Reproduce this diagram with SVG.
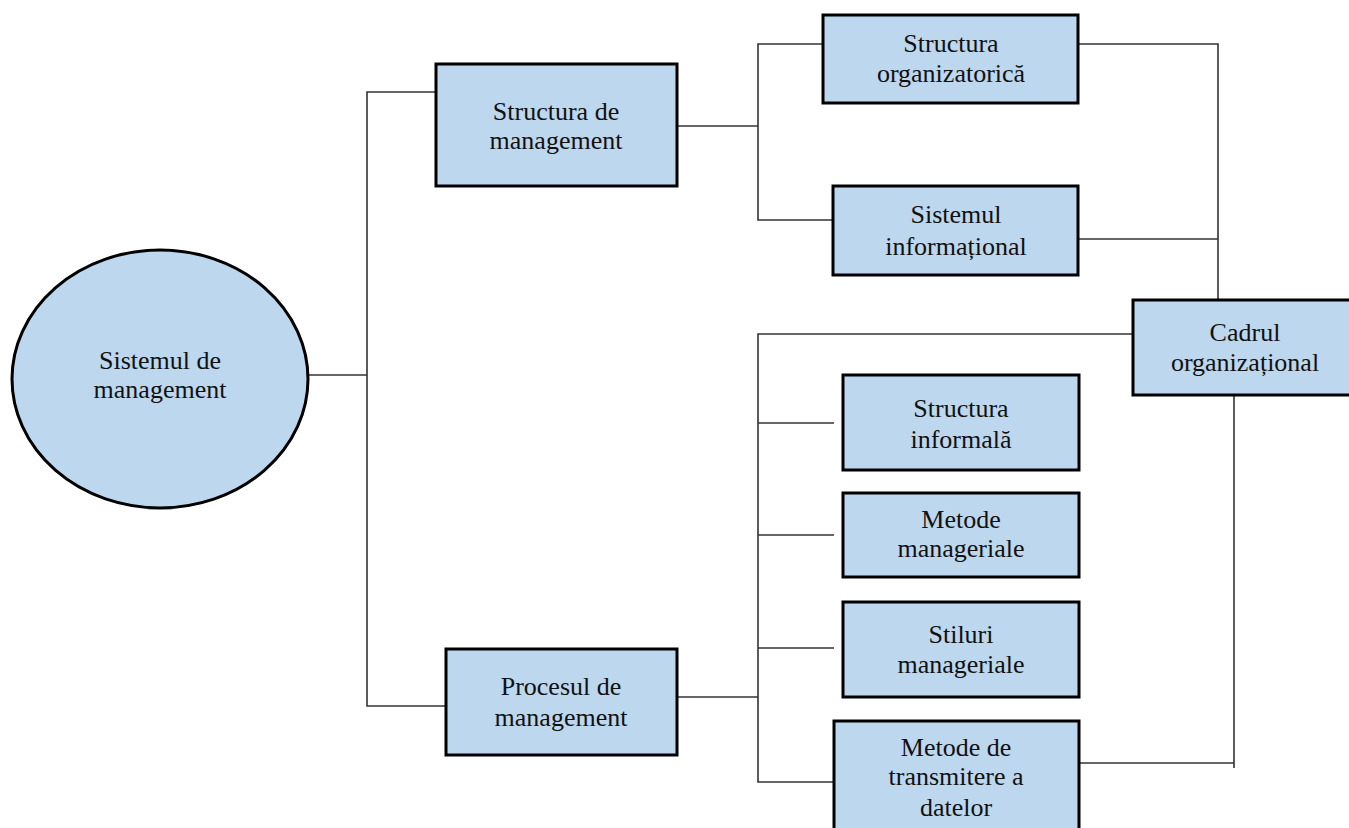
<svg xmlns="http://www.w3.org/2000/svg" width="1349" height="828" viewBox="0 0 1349 828">
  <style>
    .box { fill: #BDD7EE; stroke: #000; stroke-width: 3; }
    .lbl { font-family: "Liberation Serif", "Times New Roman", serif; font-size: 26px; fill: #111; text-anchor: middle; }
    .wire { fill: none; stroke: #333; stroke-width: 1.6; }
  </style>
  <rect width="1349" height="828" fill="#fff"/>

  <!-- connectors -->
  <g id="connectors">
    <!-- root to first-level branches -->
    <path class="wire" d="M308 375 H367"/>
    <path class="wire" d="M436 92 H367 V706 H446"/>
    <!-- Structura de management branches -->
    <path class="wire" d="M677 126 H758"/>
    <path class="wire" d="M823 44 H758 V220 H833"/>
    <!-- Procesul de management branches -->
    <path class="wire" d="M677 697 H758"/>
    <path class="wire" d="M1133 334 H758 V782 H834"/>
    <path class="wire" d="M758 423 H834"/>
    <path class="wire" d="M758 535 H834"/>
    <path class="wire" d="M758 648 H834"/>
    <!-- links into Cadrul organizațional -->
    <path class="wire" d="M1078 44 H1218 V300"/>
    <path class="wire" d="M1078 239 H1218"/>
    <path class="wire" d="M1234 395 V768"/>
    <path class="wire" d="M1079 763 H1234"/>
  </g>

  <g id="sistemul-de-management">
    <ellipse class="box" cx="160" cy="379" rx="148" ry="129"/>
    <text class="lbl" x="160" y="369">Sistemul de</text>
    <text class="lbl" x="160" y="398">management</text>
  </g>

  <g id="structura-de-management">
    <rect class="box" x="436" y="64" width="241" height="122"/>
    <text class="lbl" x="556" y="120">Structura de</text>
    <text class="lbl" x="556" y="149">management</text>
  </g>

  <g id="procesul-de-management">
    <rect class="box" x="446" y="649" width="231" height="106"/>
    <text class="lbl" x="561" y="695">Procesul de</text>
    <text class="lbl" x="561" y="726">management</text>
  </g>

  <g id="structura-organizatorica">
    <rect class="box" x="823" y="15" width="255" height="88"/>
    <text class="lbl" x="951" y="52">Structura</text>
    <text class="lbl" x="951" y="82">organizatorică</text>
  </g>

  <g id="sistemul-informational">
    <rect class="box" x="833" y="186" width="245" height="89"/>
    <text class="lbl" x="956" y="223">Sistemul</text>
    <text class="lbl" x="956" y="255">informațional</text>
  </g>

  <g id="cadrul-organizational">
    <rect class="box" x="1133" y="300" width="224" height="95"/>
    <text class="lbl" x="1245" y="341">Cadrul</text>
    <text class="lbl" x="1245" y="371">organizațional</text>
  </g>

  <g id="structura-informala">
    <rect class="box" x="843" y="375" width="236" height="95"/>
    <text class="lbl" x="961" y="417">Structura</text>
    <text class="lbl" x="961" y="448">informală</text>
  </g>

  <g id="metode-manageriale">
    <rect class="box" x="843" y="493" width="236" height="84"/>
    <text class="lbl" x="961" y="528">Metode</text>
    <text class="lbl" x="961" y="557">manageriale</text>
  </g>

  <g id="stiluri-manageriale">
    <rect class="box" x="843" y="602" width="236" height="95"/>
    <text class="lbl" x="961" y="643">Stiluri</text>
    <text class="lbl" x="961" y="673">manageriale</text>
  </g>

  <g id="metode-de-transmitere">
    <rect class="box" x="834" y="721" width="245" height="120"/>
    <text class="lbl" x="956" y="756">Metode de</text>
    <text class="lbl" x="956" y="785">transmitere a</text>
    <text class="lbl" x="956" y="816">datelor</text>
  </g>
</svg>
